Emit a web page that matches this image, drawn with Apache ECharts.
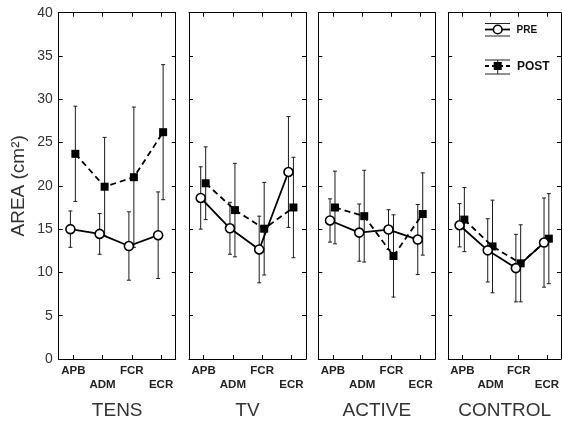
<!DOCTYPE html>
<html><head><meta charset="utf-8">
<script src="https://cdn.jsdelivr.net/npm/echarts@6/dist/echarts.min.js"></script>
<style>html,body{margin:0;padding:0;background:#fff}#c{width:562px;height:425px}</style>
</head><body><div id="c"></div>
<script>
// ---- data ----
const categories = ['APB', 'ADM', 'FCR', 'ECR'];
const groups = ['TENS', 'TV', 'ACTIVE', 'CONTROL'];
const yTickValues = [0, 5, 10, 15, 20, 25, 30, 35, 40];

const tensPre      = [15.0, 14.45, 13.05, 14.3];
const tensPreSd    = [2.1, 2.35, 3.95, 5.0];
const tensPost     = [23.7, 19.9, 21.0, 26.2];
const tensPostSd   = [5.5, 5.7, 8.1, 7.8];

const tvPre        = [18.6, 15.1, 12.65, 21.6];
const tvPreSd      = [3.6, 3.0, 3.85, 6.4];
const tvPost       = [20.3, 17.2, 15.05, 17.5];
const tvPostSd     = [4.2, 5.4, 5.35, 5.8];

const activePre    = [16.0, 14.6, 14.95, 13.8];
const activePreSd  = [2.5, 3.3, 2.3, 4.05];
const activePost   = [17.5, 16.5, 11.9, 16.75];
const activePostSd = [4.2, 5.3, 4.75, 4.75];

const controlPre    = [15.45, 12.55, 10.5, 13.45];
const controlPreSd  = [2.5, 3.65, 3.9, 5.15];
const controlPost   = [16.1, 13.0, 11.05, 13.9];
const controlPostSd = [3.7, 5.35, 4.45, 5.2];

const preMeans = [tensPre, tvPre, activePre, controlPre];
const preSds = [tensPreSd, tvPreSd, activePreSd, controlPreSd];
const postMeans = [tensPost, tvPost, activePost, controlPost];
const postSds = [tensPostSd, tvPostSd, activePostSd, controlPostSd];

// ---- layout / style ----
const FONT = '"Liberation Sans", Arial, sans-serif';
const panelLeft = [58.7, 189, 318.3, 448.3];
const PW = 117, PT = 12.7, PH = 349;
const PRE_OFF = -0.1, POST_OFF = 0.07;
const catPos = categories.map((c, i) => i + 0.5);

const chart = echarts.init(document.getElementById('c'), null, {renderer: 'canvas'});

function errRender(params, api) {
  const x = api.value(0), lo = api.value(1), hi = api.value(2);
  const a = api.coord([x, lo]), b = api.coord([x, hi]);
  const w = 2;
  const st = {stroke: '#1a1a1a', lineWidth: 1};
  return {type: 'group', children: [
    {type: 'line', shape: {x1: a[0], y1: a[1], x2: b[0], y2: b[1]}, style: st},
    {type: 'line', shape: {x1: a[0] - w, y1: a[1], x2: a[0] + w, y2: a[1]}, style: st},
    {type: 'line', shape: {x1: b[0] - w, y1: b[1], x2: b[0] + w, y2: b[1]}, style: st}
  ]};
}

const grid = [], xAxis = [], yAxis = [], series = [];
const axLine = {show: true, onZero: false, lineStyle: {color: '#000', width: 1}};
const tick = {show: true, inside: true, length: 4, lineStyle: {color: '#000', width: 1}};

groups.forEach((g, p) => {
  grid.push({left: panelLeft[p], top: PT, width: PW, height: PH, containLabel: false});
  xAxis.push({
    type: 'value', gridIndex: p, min: 0, max: 4, position: 'bottom',
    axisLine: axLine, splitLine: {show: false},
    axisTick: Object.assign({}, tick, {customValues: catPos}),
    axisLabel: {
      customValues: catPos, margin: 5,
      fontFamily: FONT, fontSize: 11.5, fontWeight: 'bold', color: '#222', lineHeight: 14,
      formatter: v => { const i = Math.floor(v); return (i % 2 ? '\n' : '') + categories[i]; }
    },
    name: g, nameLocation: 'middle', nameGap: 42,
    nameTextStyle: {fontFamily: FONT, fontSize: 19, color: '#333'}
  });
  xAxis.push({
    type: 'value', gridIndex: p, min: 0, max: 4, position: 'top',
    axisLine: axLine, splitLine: {show: false},
    axisTick: Object.assign({}, tick, {customValues: catPos}),
    axisLabel: {show: false}
  });
  yAxis.push({
    type: 'value', gridIndex: p, min: 0, max: 40, interval: 5, position: 'left',
    axisLine: axLine, splitLine: {show: false}, axisTick: tick,
    axisLabel: {show: p === 0, fontFamily: FONT, fontSize: 14, color: '#333', margin: 6},
    name: p === 0 ? 'AREA (cm²)' : '', nameLocation: 'middle', nameGap: 30,
    nameTextStyle: {fontFamily: FONT, fontSize: 19, color: '#333'}
  });
  yAxis.push({
    type: 'value', gridIndex: p, min: 0, max: 40, interval: 5, position: 'right',
    axisLine: axLine, splitLine: {show: false}, axisTick: tick,
    axisLabel: {show: false}
  });

  const preX = catPos.map(c => c + PRE_OFF);
  const postX = catPos.map(c => c + POST_OFF);

  series.push({
    type: 'custom', name: 'PRE err', xAxisIndex: 2 * p, yAxisIndex: 2 * p,
    renderItem: errRender, encode: {x: 0, y: [1, 2]}, z: 2, silent: true,
    data: preMeans[p].map((m, i) => [preX[i], m - preSds[p][i], m + preSds[p][i]])
  });
  series.push({
    type: 'custom', name: 'POST err', xAxisIndex: 2 * p, yAxisIndex: 2 * p,
    renderItem: errRender, encode: {x: 0, y: [1, 2]}, z: 2, silent: true,
    data: postMeans[p].map((m, i) => [postX[i], m - postSds[p][i], m + postSds[p][i]])
  });
  series.push({
    type: 'line', name: 'PRE', xAxisIndex: 2 * p, yAxisIndex: 2 * p, z: 4,
    data: preMeans[p].map((m, i) => [preX[i], m]),
    symbol: 'circle', symbolSize: 9, showAllSymbol: true,
    lineStyle: {color: '#000', width: 1.8},
    itemStyle: {color: '#fff', borderColor: '#000', borderWidth: 1.6},
    animation: false
  });
  series.push({
    type: 'line', name: 'POST', xAxisIndex: 2 * p, yAxisIndex: 2 * p, z: 3,
    data: postMeans[p].map((m, i) => [postX[i], m]),
    symbol: 'rect', symbolSize: 8, showAllSymbol: true,
    lineStyle: {color: '#000', width: 1.8, type: [6, 4]},
    itemStyle: {color: '#000'},
    animation: false
  });
});

// legend drawn as graphic (icons mimic the reference style)
const lg = '#222';
const graphic = [
  // PRE
  {type: 'line', shape: {x1: 485, y1: 23.5, x2: 510, y2: 23.5}, style: {stroke: lg, lineWidth: 1}},
  {type: 'line', shape: {x1: 485, y1: 36, x2: 510, y2: 36}, style: {stroke: lg, lineWidth: 1}},
  {type: 'line', shape: {x1: 485, y1: 29.5, x2: 510, y2: 29.5}, style: {stroke: '#000', lineWidth: 1.8}},
  {type: 'circle', shape: {cx: 497.7, cy: 29.5, r: 4.3}, style: {fill: '#fff', stroke: '#000', lineWidth: 1.6}},
  {type: 'text', x: 516.5, y: 29.8, style: {text: 'PRE', font: 'bold 10px ' + FONT, fill: '#111', verticalAlign: 'middle'}},
  // POST
  {type: 'line', shape: {x1: 485, y1: 60, x2: 510, y2: 60}, style: {stroke: lg, lineWidth: 1}},
  {type: 'line', shape: {x1: 485, y1: 74, x2: 510, y2: 74}, style: {stroke: lg, lineWidth: 1}},
  {type: 'line', shape: {x1: 497.7, y1: 60, x2: 497.7, y2: 74}, style: {stroke: lg, lineWidth: 1}},
  {type: 'line', shape: {x1: 485, y1: 66, x2: 510, y2: 66}, style: {stroke: '#000', lineWidth: 1.8, lineDash: [4, 3]}},
  {type: 'rect', shape: {x: 493.7, y: 62, width: 8, height: 8}, style: {fill: '#000'}},
  {type: 'text', x: 517, y: 66.5, style: {text: 'POST', font: 'bold 12px ' + FONT, fill: '#111', verticalAlign: 'middle'}}
];

chart.setOption({
  animation: false,
  backgroundColor: '#fff',
  textStyle: {fontFamily: FONT},
  grid, xAxis, yAxis, series, graphic
});
</script>
</body></html>
